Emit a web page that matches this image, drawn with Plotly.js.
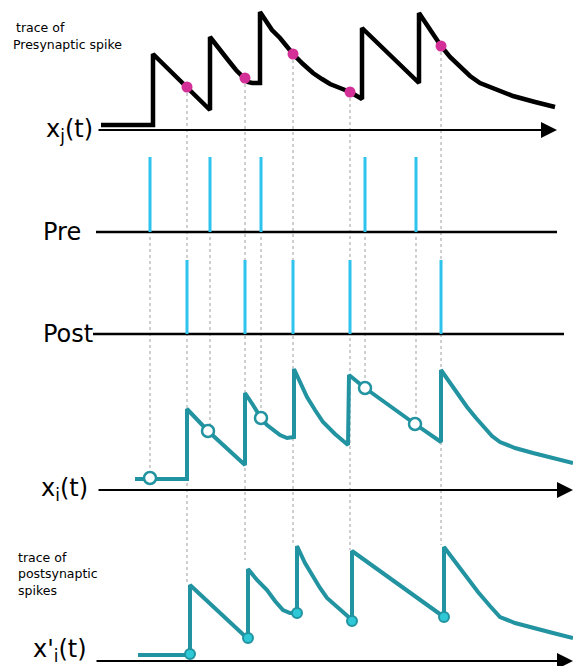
<!DOCTYPE html>
<html>
<head>
<meta charset="utf-8">
<script src="https://cdn.plot.ly/plotly-3.0.1.min.js"></script>
<style>html,body{margin:0;padding:0;background:#fff;}#chart{width:573px;height:666px;}</style>
</head>
<body>
<div id="chart"></div>
<script>
// ---- data (canvas units: x = time, y = vertical position, downward) ----
const preSpikeT  = [150, 210, 261, 365, 416];
const postSpikeT = [187, 245, 293, 350, 441];

// presynaptic trace x_j(t)
const xjT = [101,153,153,187,210,210,218,228,236,244,248,252,260,260,266,272,280,293,303,313,322,330,340,350,362,362,419,419,425,430,441,450,460,470,480,495,513,535,555];
const xjV = [125,125, 54, 87,110, 37, 48, 60, 70, 78, 82, 83, 83, 12, 21, 30, 38, 54, 64, 73, 79, 84, 88, 92, 99, 28, 83, 13, 22, 30, 46, 57, 67, 76, 83, 89, 96,102,107];
const xjDotV = [87, 78, 54, 92, 46];          // x_j at post spikes

// postsynaptic-side trace x_i(t)
const xiT = [135,187,187,208,245,245,253,261,267,273,280,287,294,294,300,307,315,323,335,348,349,365,415,441,441,448,455,461,467,476,485,492,500,515,533,553,573];
const xiV = [479,479,409,431,465,393,405,418,425,430,435,438,437,369,383,397,410,422,434,445,375,388,424,442,370,380,390,399,407,418,428,436,442,448,453,458,463];
const xiCircT = [150, 208, 261, 365, 415];
const xiCircV = [478, 431, 418, 388, 424];    // x_i at pre spikes

// postsynaptic trace x'_i(t)
const xpT = [138,190,190,248,248,257,267,275,283,290,297,297,305,313,320,327,340,352,352,444,444,455,467,478,490,500,515,533,553,573];
const xpV = [655,655,585,639,569,580,590,601,610,613,613,546,563,577,588,598,610,620,551,617,547,562,577,592,606,617,623,628,633,638];
const xpDotT = [190, 248, 297, 352, 444];
const xpDotV = [654, 638, 613, 621, 617];     // x'_i at post spikes
const xpPeakV = [583, 560, 545, 550, 545];

// spike rows
const preBase = 232, preTop = 157;
const postBase = 334, postTop = 260;
const axisRows = [130, 490, 661];

// ---- helpers ----
function segs(xs, y0s, y1s){
  const X=[],Y=[];
  xs.forEach((x,i)=>{X.push(x,x,null);Y.push(Array.isArray(y0s)?y0s[i]:y0s, Array.isArray(y1s)?y1s[i]:y1s, null);});
  return {X,Y};
}
const teal = '#2293a0';
const cyan = '#2ec3ec';
const grey = '#b0b0b0';

const traces = [];
// dotted guides
let d = segs(postSpikeT, xjDotV.map(v=>v+6), xpPeakV);
traces.push({x:d.X,y:d.Y,mode:'lines',line:{color:grey,width:1.2,dash:'dot'},hoverinfo:'skip'});
d = segs(preSpikeT, preBase+5, xiCircV);
traces.push({x:d.X,y:d.Y,mode:'lines',line:{color:grey,width:1.2,dash:'dot'},hoverinfo:'skip'});

// baselines Pre / Post
traces.push({x:[96,557],y:[preBase,preBase],mode:'lines',line:{color:'#000',width:2.5},hoverinfo:'skip'});
traces.push({x:[93,564],y:[postBase,postBase],mode:'lines',line:{color:'#000',width:2.5},hoverinfo:'skip'});

// spikes
d = segs(preSpikeT, preBase, preTop);
traces.push({x:d.X,y:d.Y,mode:'lines',line:{color:cyan,width:3},hoverinfo:'skip'});
d = segs(postSpikeT, postBase, postTop);
traces.push({x:d.X,y:d.Y,mode:'lines',line:{color:cyan,width:3},hoverinfo:'skip'});

// traces
traces.push({x:xjT,y:xjV,mode:'lines',line:{color:'#000',width:4.5},hoverinfo:'skip'});
traces.push({x:postSpikeT,y:xjDotV,mode:'markers',marker:{color:'#d42f97',size:11},hoverinfo:'skip'});
traces.push({x:xiT,y:xiV,mode:'lines',line:{color:teal,width:4},hoverinfo:'skip'});
traces.push({x:xiCircT,y:xiCircV,mode:'markers',marker:{color:'#fff',size:12,line:{color:teal,width:2.5}},hoverinfo:'skip'});
traces.push({x:xpT,y:xpV,mode:'lines',line:{color:teal,width:4},hoverinfo:'skip'});
traces.push({x:xpDotT,y:xpDotV,mode:'markers',marker:{color:'#2ec8d6',size:10,line:{color:teal,width:2}},hoverinfo:'skip'});

const font = 'DejaVu Sans, sans-serif';
const ann = [];
// arrow axes
const arrowStart = [97, 97, 95], arrowEnd = [557, 573, 573];
axisRows.forEach((y,i)=>{
  ann.push({x:arrowEnd[i],y:y,ax:arrowStart[i],ay:y,xref:'x',yref:'y',axref:'x',ayref:'y',
    text:'',showarrow:true,arrowhead:2,arrowsize:1.6,arrowwidth:2,arrowcolor:'#000'});
});
function lab(text,x,y,size,anchor){
  ann.push({x:x,y:y,xref:'x',yref:'y',text:text,showarrow:false,xanchor:anchor||'left',yanchor:'middle',
    font:{family:font,size:size,color:'#000'}});
}
lab('trace of',14,27,12.5);
lab('Presynaptic spike',11,44,12.5);
lab('x<sub>j</sub>(t)',95,130,24,'right');
lab('Pre',41,232,24);
lab('Post',41,334,24);
lab('x<sub>i</sub>(t)',90,489,24,'right');
lab('trace of',16,557,12.5);
lab('postsynaptic',16,573,12.5);
lab('spikes',16,590,12.5);
lab("x'<sub>i</sub>(t)",89,650,24,'right');

const layout = {
  width:573,height:666,margin:{l:0,r:0,t:0,b:0},
  paper_bgcolor:'#fff',plot_bgcolor:'#fff',showlegend:false,
  xaxis:{range:[0,573],visible:false,fixedrange:true},
  yaxis:{range:[666,0],visible:false,fixedrange:true},
  annotations:ann
};
Plotly.newPlot('chart',traces,layout,{staticPlot:true,displayModeBar:false});
</script>
</body>
</html>
